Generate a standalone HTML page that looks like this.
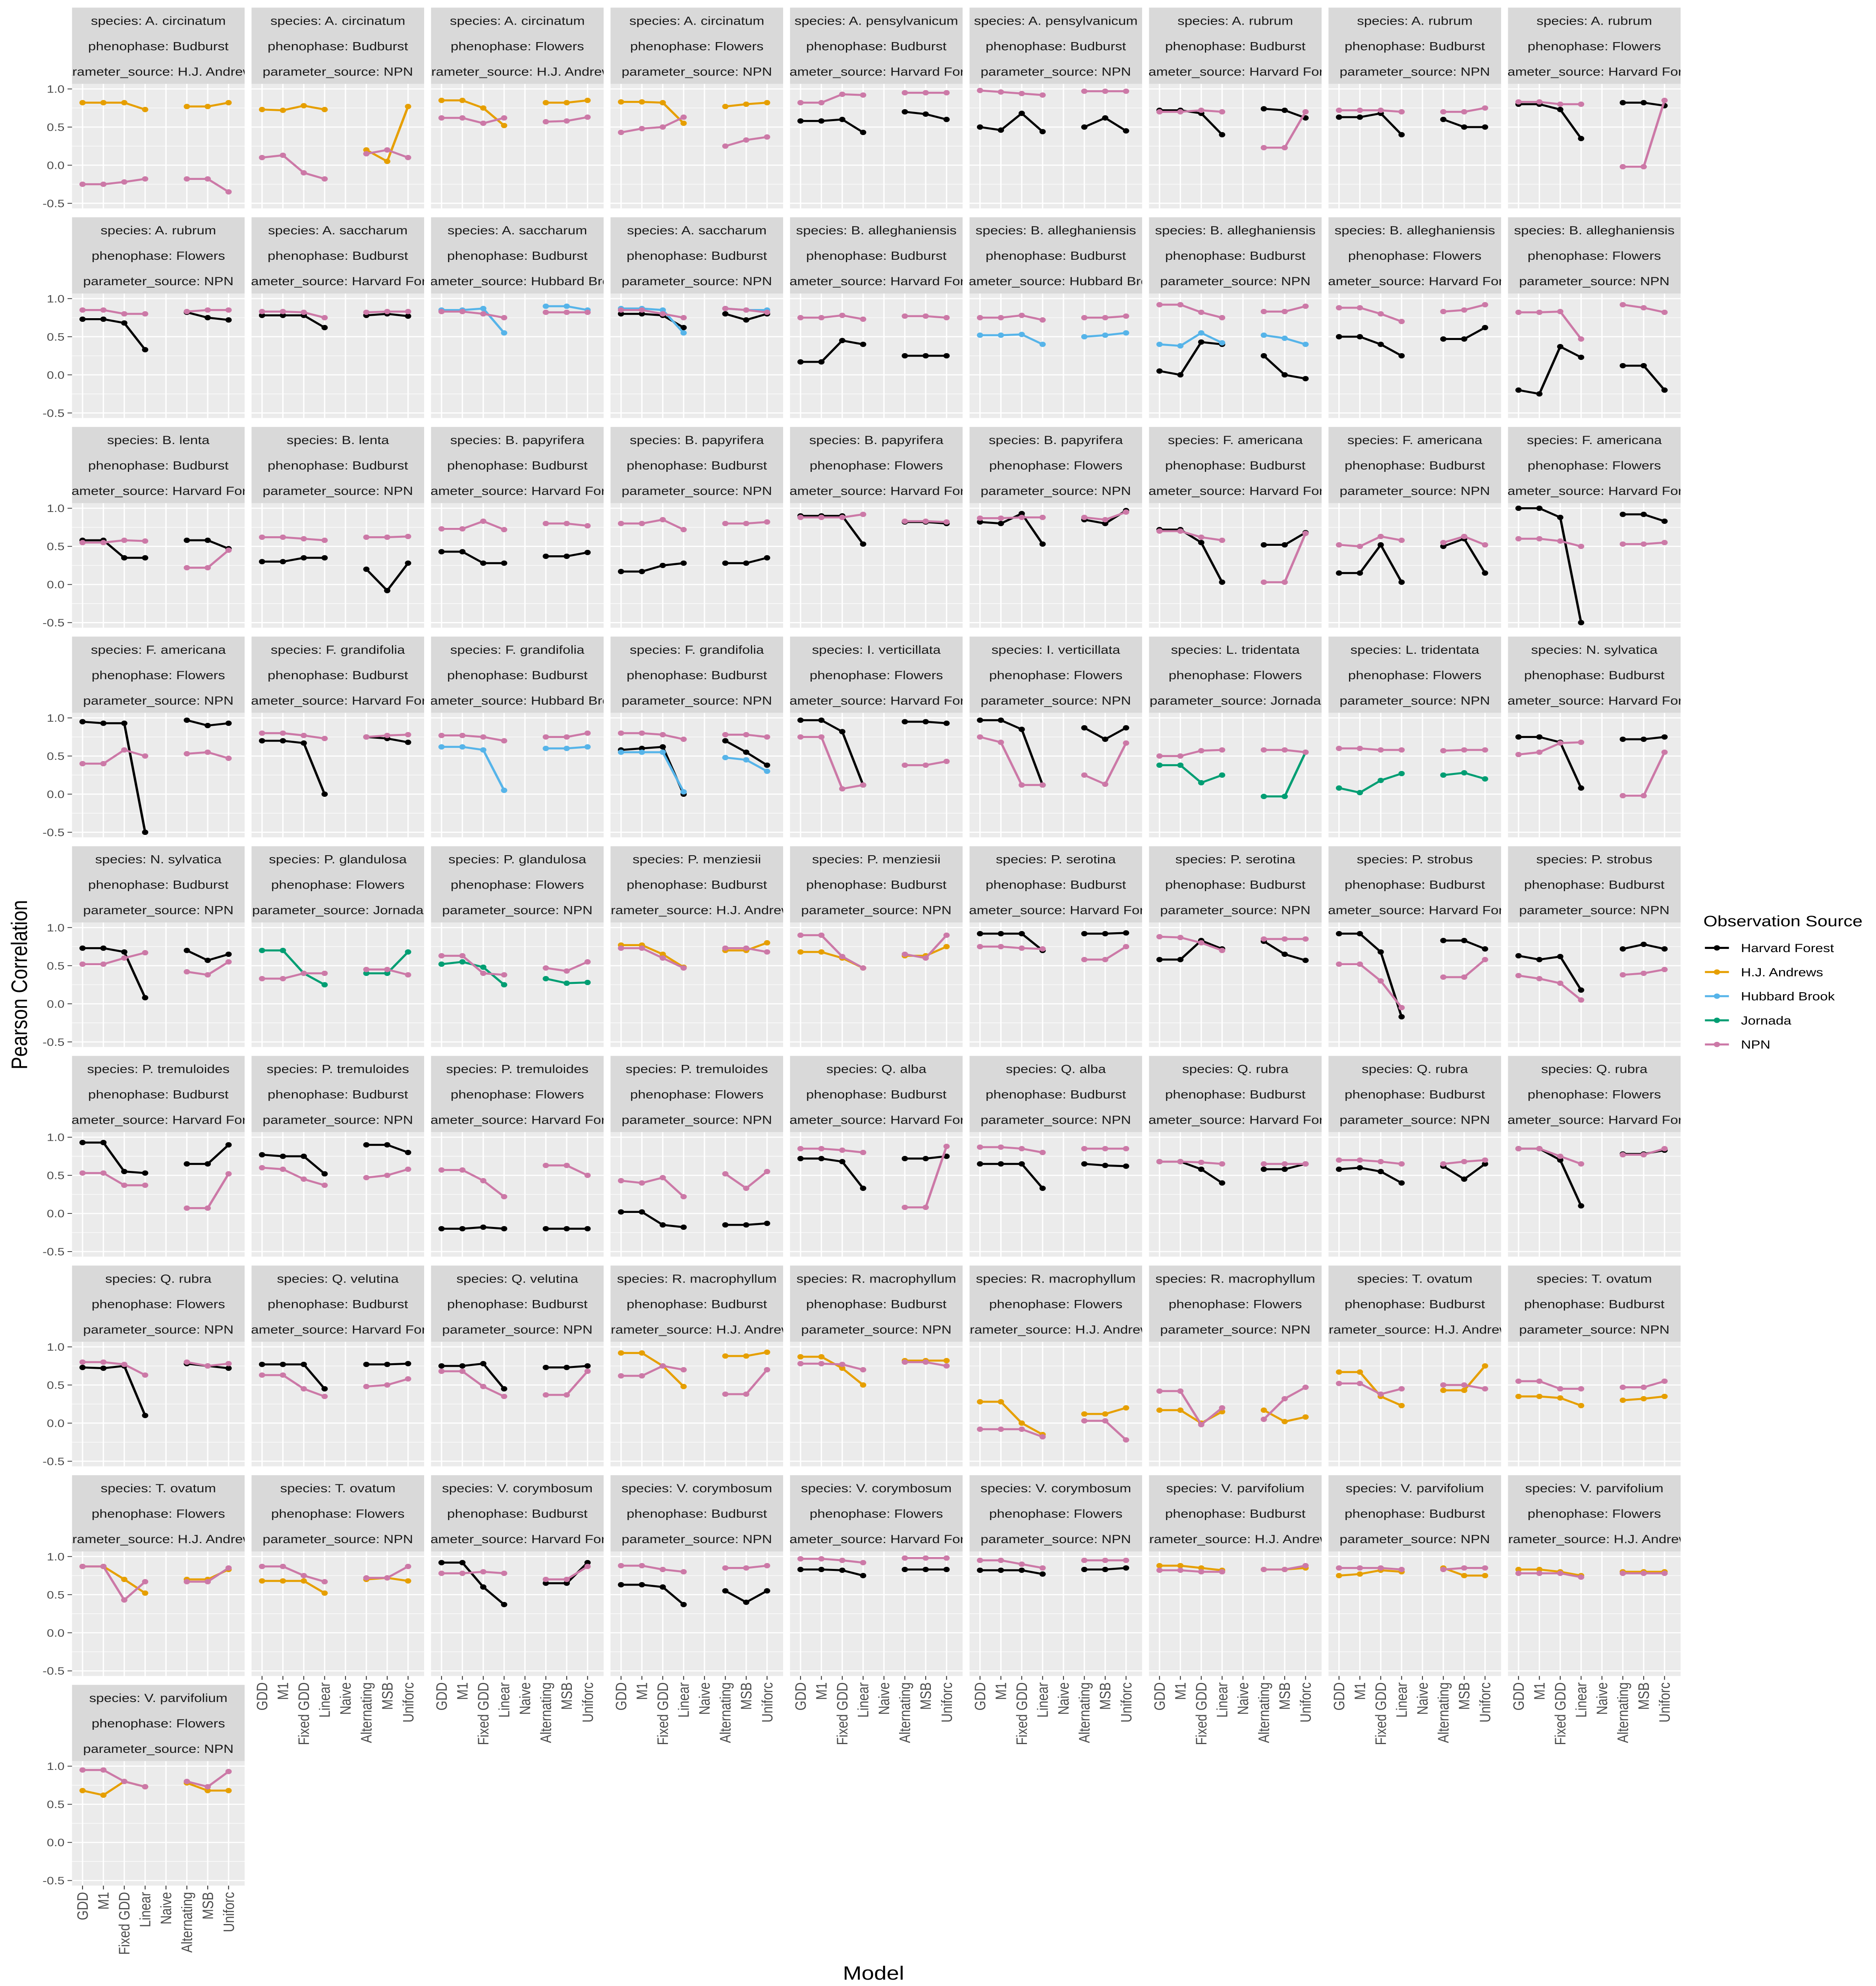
<!DOCTYPE html>
<html><head><meta charset="utf-8"><style>
html,body{margin:0;padding:0;background:#fff;overflow:hidden;width:100vw;height:100vh;}
svg{display:block;font-family:"Liberation Sans",sans-serif;width:100vw;height:100vh;}
</style></head><body>
<svg id="chart" xmlns="http://www.w3.org/2000/svg" viewBox="0 0 1250 1563" preserveAspectRatio="none">
<rect x="0" y="0" width="1250" height="1563" fill="#fff"/>
<g id="panels"></g>
<text x="18" y="775" transform="rotate(-90 18 775)" text-anchor="middle" font-size="15" fill="#000">Pearson Correlation</text>
<text x="582" y="1558" text-anchor="middle" font-size="15" fill="#000">Model</text>
<g id="legend">
<text x="1135" y="729" font-size="12" fill="#000">Observation Source</text>
</g>
</svg>
<script>
const categories=["GDD","M1","Fixed GDD","Linear","Naive","Alternating","MSB","Uniforc"];
const seriesKeys=["HF","HJ","HB","JO","NPN"];
const seriesNames=["Harvard Forest","H.J. Andrews","Hubbard Brook","Jornada","NPN"];
const seriesColors=["#000000","#E69F00","#56B4E9","#009E73","#CC79A7"];
const yTicks=[1.0,0.5,0.0,-0.5];
const yTickLabels=["1.0","0.5","0.0","-0.5"];
const n=null;
const panels=[
{sp:"A. circinatum",ph:"Budburst",src:"H.J. Andrews",HJ:[0.82,0.82,0.82,0.73,n,0.77,0.77,0.82],NPN:[-0.25,-0.25,-0.22,-0.18,n,-0.18,-0.18,-0.35]},
{sp:"A. circinatum",ph:"Budburst",src:"NPN",HJ:[0.73,0.72,0.78,0.73,n,0.2,0.05,0.77],NPN:[0.1,0.13,-0.1,-0.18,n,0.15,0.2,0.1]},
{sp:"A. circinatum",ph:"Flowers",src:"H.J. Andrews",HJ:[0.85,0.85,0.75,0.52,n,0.82,0.82,0.85],NPN:[0.62,0.62,0.55,0.62,n,0.57,0.58,0.63]},
{sp:"A. circinatum",ph:"Flowers",src:"NPN",HJ:[0.83,0.83,0.82,0.55,n,0.77,0.8,0.82],NPN:[0.43,0.48,0.5,0.63,n,0.25,0.33,0.37]},
{sp:"A. pensylvanicum",ph:"Budburst",src:"Harvard Forest",HF:[0.58,0.58,0.6,0.43,n,0.7,0.67,0.6],NPN:[0.82,0.82,0.93,0.92,n,0.95,0.95,0.95]},
{sp:"A. pensylvanicum",ph:"Budburst",src:"NPN",HF:[0.5,0.46,0.68,0.44,n,0.5,0.62,0.45],NPN:[0.98,0.96,0.94,0.92,n,0.97,0.97,0.97]},
{sp:"A. rubrum",ph:"Budburst",src:"Harvard Forest",HF:[0.72,0.72,0.68,0.4,n,0.74,0.72,0.62],NPN:[0.7,0.7,0.72,0.7,n,0.23,0.23,0.7]},
{sp:"A. rubrum",ph:"Budburst",src:"NPN",HF:[0.63,0.63,0.68,0.4,n,0.6,0.5,0.5],NPN:[0.72,0.72,0.72,0.7,n,0.7,0.7,0.75]},
{sp:"A. rubrum",ph:"Flowers",src:"Harvard Forest",HF:[0.8,0.8,0.73,0.35,n,0.82,0.82,0.78],NPN:[0.83,0.83,0.8,0.8,n,-0.02,-0.02,0.85]},
{sp:"A. rubrum",ph:"Flowers",src:"NPN",HF:[0.73,0.73,0.68,0.33,n,0.82,0.75,0.72],NPN:[0.85,0.85,0.8,0.8,n,0.83,0.85,0.85]},
{sp:"A. saccharum",ph:"Budburst",src:"Harvard Forest",HF:[0.78,0.78,0.78,0.62,n,0.78,0.8,0.77],NPN:[0.83,0.83,0.82,0.75,n,0.82,0.83,0.83]},
{sp:"A. saccharum",ph:"Budburst",src:"Hubbard Brook",HB:[0.85,0.85,0.87,0.55,n,0.9,0.9,0.85],NPN:[0.83,0.83,0.8,0.75,n,0.82,0.82,0.82]},
{sp:"A. saccharum",ph:"Budburst",src:"NPN",HF:[0.8,0.8,0.78,0.62,n,0.8,0.72,0.8],HB:[0.87,0.87,0.85,0.55,n,0.87,0.85,0.85],NPN:[0.85,0.85,0.8,0.75,n,0.87,0.85,0.82]},
{sp:"B. alleghaniensis",ph:"Budburst",src:"Harvard Forest",HF:[0.17,0.17,0.45,0.4,n,0.25,0.25,0.25],NPN:[0.75,0.75,0.78,0.73,n,0.77,0.77,0.75]},
{sp:"B. alleghaniensis",ph:"Budburst",src:"Hubbard Brook",HB:[0.52,0.52,0.53,0.4,n,0.5,0.52,0.55],NPN:[0.75,0.75,0.78,0.72,n,0.75,0.75,0.77]},
{sp:"B. alleghaniensis",ph:"Budburst",src:"NPN",HF:[0.05,0,0.43,0.4,n,0.25,0,-0.05],HB:[0.4,0.38,0.55,0.42,n,0.52,0.48,0.4],NPN:[0.92,0.92,0.82,0.75,n,0.83,0.83,0.9]},
{sp:"B. alleghaniensis",ph:"Flowers",src:"Harvard Forest",HF:[0.5,0.5,0.4,0.25,n,0.47,0.47,0.62],NPN:[0.88,0.88,0.8,0.7,n,0.83,0.85,0.92]},
{sp:"B. alleghaniensis",ph:"Flowers",src:"NPN",HF:[-0.2,-0.25,0.37,0.23,n,0.12,0.12,-0.2],NPN:[0.82,0.82,0.83,0.47,n,0.92,0.88,0.82]},
{sp:"B. lenta",ph:"Budburst",src:"Harvard Forest",HF:[0.58,0.58,0.35,0.35,n,0.58,0.58,0.47],NPN:[0.55,0.55,0.58,0.57,n,0.22,0.22,0.45]},
{sp:"B. lenta",ph:"Budburst",src:"NPN",HF:[0.3,0.3,0.35,0.35,n,0.2,-0.08,0.28],NPN:[0.62,0.62,0.6,0.58,n,0.62,0.62,0.63]},
{sp:"B. papyrifera",ph:"Budburst",src:"Harvard Forest",HF:[0.43,0.43,0.28,0.28,n,0.37,0.37,0.42],NPN:[0.73,0.73,0.83,0.72,n,0.8,0.8,0.77]},
{sp:"B. papyrifera",ph:"Budburst",src:"NPN",HF:[0.17,0.17,0.25,0.28,n,0.28,0.28,0.35],NPN:[0.8,0.8,0.85,0.72,n,0.8,0.8,0.82]},
{sp:"B. papyrifera",ph:"Flowers",src:"Harvard Forest",HF:[0.9,0.9,0.9,0.53,n,0.82,0.82,0.8],NPN:[0.88,0.88,0.88,0.92,n,0.83,0.83,0.82]},
{sp:"B. papyrifera",ph:"Flowers",src:"NPN",HF:[0.82,0.8,0.93,0.53,n,0.85,0.8,0.97],NPN:[0.87,0.87,0.88,0.88,n,0.88,0.85,0.95]},
{sp:"F. americana",ph:"Budburst",src:"Harvard Forest",HF:[0.72,0.72,0.55,0.03,n,0.52,0.52,0.68],NPN:[0.7,0.7,0.62,0.58,n,0.03,0.03,0.67]},
{sp:"F. americana",ph:"Budburst",src:"NPN",HF:[0.15,0.15,0.52,0.03,n,0.5,0.6,0.15],NPN:[0.52,0.5,0.63,0.58,n,0.55,0.63,0.52]},
{sp:"F. americana",ph:"Flowers",src:"Harvard Forest",HF:[1.0,1.0,0.88,-0.5,n,0.92,0.92,0.83],NPN:[0.6,0.6,0.57,0.5,n,0.53,0.53,0.55]},
{sp:"F. americana",ph:"Flowers",src:"NPN",HF:[0.95,0.93,0.93,-0.5,n,0.97,0.9,0.93],NPN:[0.4,0.4,0.58,0.5,n,0.53,0.55,0.47]},
{sp:"F. grandifolia",ph:"Budburst",src:"Harvard Forest",HF:[0.7,0.7,0.67,0,n,0.75,0.73,0.68],NPN:[0.8,0.8,0.77,0.73,n,0.75,0.77,0.78]},
{sp:"F. grandifolia",ph:"Budburst",src:"Hubbard Brook",HB:[0.62,0.62,0.58,0.05,n,0.6,0.6,0.62],NPN:[0.77,0.77,0.75,0.7,n,0.75,0.75,0.8]},
{sp:"F. grandifolia",ph:"Budburst",src:"NPN",HF:[0.58,0.6,0.62,0,n,0.7,0.55,0.38],HB:[0.55,0.55,0.55,0.03,n,0.48,0.45,0.3],NPN:[0.8,0.8,0.78,0.72,n,0.78,0.78,0.75]},
{sp:"I. verticillata",ph:"Flowers",src:"Harvard Forest",HF:[0.97,0.97,0.82,0.12,n,0.95,0.95,0.93],NPN:[0.75,0.75,0.07,0.12,n,0.38,0.38,0.43]},
{sp:"I. verticillata",ph:"Flowers",src:"NPN",HF:[0.97,0.97,0.85,0.12,n,0.87,0.72,0.87],NPN:[0.75,0.68,0.12,0.12,n,0.25,0.13,0.67]},
{sp:"L. tridentata",ph:"Flowers",src:"Jornada",JO:[0.38,0.38,0.15,0.25,n,-0.03,-0.03,0.55],NPN:[0.5,0.5,0.57,0.58,n,0.58,0.58,0.55]},
{sp:"L. tridentata",ph:"Flowers",src:"NPN",JO:[0.08,0.02,0.18,0.27,n,0.25,0.28,0.2],NPN:[0.6,0.6,0.58,0.58,n,0.57,0.58,0.58]},
{sp:"N. sylvatica",ph:"Budburst",src:"Harvard Forest",HF:[0.75,0.75,0.68,0.08,n,0.72,0.72,0.75],NPN:[0.52,0.55,0.67,0.68,n,-0.02,-0.02,0.55]},
{sp:"N. sylvatica",ph:"Budburst",src:"NPN",HF:[0.73,0.73,0.68,0.08,n,0.7,0.57,0.65],NPN:[0.52,0.52,0.6,0.67,n,0.42,0.38,0.55]},
{sp:"P. glandulosa",ph:"Flowers",src:"Jornada",JO:[0.7,0.7,0.4,0.25,n,0.4,0.4,0.68],NPN:[0.33,0.33,0.4,0.4,n,0.45,0.45,0.38]},
{sp:"P. glandulosa",ph:"Flowers",src:"NPN",JO:[0.52,0.55,0.48,0.25,n,0.33,0.27,0.28],NPN:[0.63,0.63,0.4,0.38,n,0.47,0.43,0.55]},
{sp:"P. menziesii",ph:"Budburst",src:"H.J. Andrews",HJ:[0.77,0.77,0.65,0.48,n,0.7,0.7,0.8],NPN:[0.73,0.73,0.6,0.47,n,0.73,0.73,0.68]},
{sp:"P. menziesii",ph:"Budburst",src:"NPN",HJ:[0.68,0.68,0.6,0.47,n,0.63,0.63,0.75],NPN:[0.9,0.9,0.62,0.47,n,0.65,0.6,0.9]},
{sp:"P. serotina",ph:"Budburst",src:"Harvard Forest",HF:[0.92,0.92,0.92,0.7,n,0.92,0.92,0.93],NPN:[0.75,0.75,0.73,0.72,n,0.58,0.58,0.75]},
{sp:"P. serotina",ph:"Budburst",src:"NPN",HF:[0.58,0.58,0.83,0.72,n,0.82,0.65,0.57],NPN:[0.88,0.87,0.8,0.7,n,0.85,0.85,0.85]},
{sp:"P. strobus",ph:"Budburst",src:"Harvard Forest",HF:[0.92,0.92,0.68,-0.17,n,0.83,0.83,0.72],NPN:[0.52,0.52,0.3,-0.05,n,0.35,0.35,0.58]},
{sp:"P. strobus",ph:"Budburst",src:"NPN",HF:[0.63,0.58,0.62,0.18,n,0.72,0.78,0.72],NPN:[0.37,0.33,0.27,0.05,n,0.38,0.4,0.45]},
{sp:"P. tremuloides",ph:"Budburst",src:"Harvard Forest",HF:[0.93,0.93,0.55,0.53,n,0.65,0.65,0.9],NPN:[0.53,0.53,0.37,0.37,n,0.07,0.07,0.52]},
{sp:"P. tremuloides",ph:"Budburst",src:"NPN",HF:[0.77,0.75,0.75,0.52,n,0.9,0.9,0.8],NPN:[0.6,0.58,0.45,0.37,n,0.47,0.5,0.58]},
{sp:"P. tremuloides",ph:"Flowers",src:"Harvard Forest",HF:[-0.2,-0.2,-0.18,-0.2,n,-0.2,-0.2,-0.2],NPN:[0.57,0.57,0.43,0.22,n,0.63,0.63,0.5]},
{sp:"P. tremuloides",ph:"Flowers",src:"NPN",HF:[0.02,0.02,-0.15,-0.18,n,-0.15,-0.15,-0.13],NPN:[0.43,0.4,0.47,0.22,n,0.52,0.33,0.55]},
{sp:"Q. alba",ph:"Budburst",src:"Harvard Forest",HF:[0.72,0.72,0.68,0.33,n,0.72,0.72,0.75],NPN:[0.85,0.85,0.83,0.8,n,0.08,0.08,0.88]},
{sp:"Q. alba",ph:"Budburst",src:"NPN",HF:[0.65,0.65,0.65,0.33,n,0.65,0.63,0.62],NPN:[0.87,0.87,0.85,0.8,n,0.85,0.85,0.85]},
{sp:"Q. rubra",ph:"Budburst",src:"Harvard Forest",HF:[0.68,0.68,0.58,0.4,n,0.58,0.58,0.65],NPN:[0.68,0.68,0.67,0.65,n,0.65,0.65,0.65]},
{sp:"Q. rubra",ph:"Budburst",src:"NPN",HF:[0.58,0.6,0.55,0.4,n,0.62,0.45,0.65],NPN:[0.7,0.7,0.68,0.65,n,0.65,0.68,0.7]},
{sp:"Q. rubra",ph:"Flowers",src:"Harvard Forest",HF:[0.85,0.85,0.7,0.1,n,0.78,0.78,0.83],NPN:[0.85,0.85,0.75,0.65,n,0.77,0.77,0.85]},
{sp:"Q. rubra",ph:"Flowers",src:"NPN",HF:[0.73,0.72,0.75,0.1,n,0.78,0.75,0.72],NPN:[0.8,0.8,0.77,0.63,n,0.8,0.75,0.78]},
{sp:"Q. velutina",ph:"Budburst",src:"Harvard Forest",HF:[0.77,0.77,0.77,0.45,n,0.77,0.77,0.78],NPN:[0.63,0.63,0.45,0.35,n,0.48,0.5,0.58]},
{sp:"Q. velutina",ph:"Budburst",src:"NPN",HF:[0.75,0.75,0.78,0.45,n,0.73,0.73,0.75],NPN:[0.68,0.68,0.48,0.35,n,0.37,0.37,0.68]},
{sp:"R. macrophyllum",ph:"Budburst",src:"H.J. Andrews",HJ:[0.92,0.92,0.75,0.48,n,0.88,0.88,0.93],NPN:[0.62,0.62,0.75,0.7,n,0.38,0.38,0.7]},
{sp:"R. macrophyllum",ph:"Budburst",src:"NPN",HJ:[0.87,0.87,0.72,0.5,n,0.82,0.82,0.82],NPN:[0.78,0.78,0.77,0.7,n,0.8,0.8,0.75]},
{sp:"R. macrophyllum",ph:"Flowers",src:"H.J. Andrews",HJ:[0.28,0.28,0,-0.15,n,0.12,0.12,0.2],NPN:[-0.08,-0.08,-0.08,-0.18,n,0.03,0.03,-0.22]},
{sp:"R. macrophyllum",ph:"Flowers",src:"NPN",HJ:[0.17,0.17,0,0.15,n,0.17,0.02,0.08],NPN:[0.42,0.42,-0.02,0.2,n,0.05,0.32,0.47]},
{sp:"T. ovatum",ph:"Budburst",src:"H.J. Andrews",HJ:[0.67,0.67,0.35,0.23,n,0.43,0.43,0.75],NPN:[0.52,0.52,0.38,0.45,n,0.5,0.5,0.45]},
{sp:"T. ovatum",ph:"Budburst",src:"NPN",HJ:[0.35,0.35,0.33,0.23,n,0.3,0.32,0.35],NPN:[0.55,0.55,0.45,0.45,n,0.47,0.47,0.55]},
{sp:"T. ovatum",ph:"Flowers",src:"H.J. Andrews",HJ:[0.87,0.87,0.7,0.52,n,0.7,0.7,0.83],NPN:[0.87,0.87,0.43,0.67,n,0.67,0.67,0.85]},
{sp:"T. ovatum",ph:"Flowers",src:"NPN",HJ:[0.68,0.68,0.68,0.52,n,0.7,0.72,0.68],NPN:[0.87,0.87,0.75,0.67,n,0.72,0.72,0.87]},
{sp:"V. corymbosum",ph:"Budburst",src:"Harvard Forest",HF:[0.92,0.92,0.6,0.37,n,0.65,0.65,0.92],NPN:[0.78,0.78,0.8,0.78,n,0.7,0.7,0.87]},
{sp:"V. corymbosum",ph:"Budburst",src:"NPN",HF:[0.63,0.63,0.6,0.37,n,0.55,0.4,0.55],NPN:[0.88,0.88,0.83,0.8,n,0.85,0.85,0.88]},
{sp:"V. corymbosum",ph:"Flowers",src:"Harvard Forest",HF:[0.83,0.83,0.82,0.75,n,0.83,0.83,0.83],NPN:[0.97,0.97,0.95,0.92,n,0.98,0.98,0.98]},
{sp:"V. corymbosum",ph:"Flowers",src:"NPN",HF:[0.82,0.82,0.82,0.77,n,0.83,0.83,0.85],NPN:[0.95,0.95,0.9,0.85,n,0.95,0.95,0.95]},
{sp:"V. parvifolium",ph:"Budburst",src:"H.J. Andrews",HJ:[0.88,0.88,0.85,0.82,n,0.83,0.83,0.85],NPN:[0.82,0.82,0.8,0.8,n,0.83,0.83,0.88]},
{sp:"V. parvifolium",ph:"Budburst",src:"NPN",HJ:[0.75,0.77,0.82,0.8,n,0.85,0.75,0.75],NPN:[0.85,0.85,0.85,0.83,n,0.83,0.85,0.85]},
{sp:"V. parvifolium",ph:"Flowers",src:"H.J. Andrews",HJ:[0.83,0.83,0.8,0.75,n,0.8,0.8,0.8],NPN:[0.78,0.78,0.78,0.73,n,0.78,0.78,0.78]},
{sp:"V. parvifolium",ph:"Flowers",src:"NPN",HJ:[0.68,0.62,0.8,0.73,n,0.78,0.68,0.68],NPN:[0.95,0.95,0.8,0.73,n,0.8,0.73,0.93]}
];

const NS="http://www.w3.org/2000/svg";
function mk(tag,attrs,parent){const e=document.createElementNS(NS,tag);for(const k in attrs)e.setAttribute(k,attrs[k]);if(parent)parent.appendChild(e);return e;}
const COLS=9,PX0=48,PDX=119.6,PW=115,SY0=6,PDY=165,STRIPH=60,PH=98;
function yScale(top,v){return top+4+(1.0-v)*60;}
function xScale(left,k){return left+7+k*13.9;}
const root=document.getElementById('panels');
const defs=mk('defs',{},root);
const nPan=panels.length;
panels.forEach((p,i)=>{
  const col=i%COLS,row=Math.floor(i/COLS);
  const left=PX0+col*PDX,stop=SY0+row*PDY,top=stop+STRIPH;
  const g=mk('g',{},root);
  
  
  const cp=mk('clipPath',{id:'c'+i},defs);
  mk('rect',{x:left,y:stop,width:PW,height:STRIPH},cp);
  const strip=mk('rect',{x:left,y:stop,width:PW,height:STRIPH,fill:'#D9D9D9'},g);
  
  
  const tg=mk('g',{'clip-path':'url(#c'+i+')'},g);
  [['species: '+p.sp],['phenophase: '+p.ph],['parameter_source: '+p.src]].forEach((t,j)=>{
    const tx=mk('text',{x:left+PW/2,y:stop+13.5+j*20,'text-anchor':'middle','font-size':'9.3',fill:'#1A1A1A'},tg);
    tx.textContent=t[0];
    
    
  });
  const bg=mk('rect',{x:left,y:top,width:PW,height:PH,fill:'#EBEBEB'},g);
  
  
  [0.75,0.25,-0.25].forEach(v=>mk('line',{x1:left,x2:left+PW,y1:yScale(top,v),y2:yScale(top,v),stroke:'#fff','stroke-width':0.4},g));
  yTicks.forEach(v=>mk('line',{x1:left,x2:left+PW,y1:yScale(top,v),y2:yScale(top,v),stroke:'#fff','stroke-width':0.9},g));
  categories.forEach((c,k)=>mk('line',{x1:xScale(left,k),x2:xScale(left,k),y1:top,y2:top+PH,stroke:'#fff','stroke-width':0.9},g));
  if(col===0){
    yTicks.forEach((v,j)=>{
      const t=mk('text',{x:left-5,y:yScale(top,v)+3,'text-anchor':'end','font-size':'8.5',fill:'#4D4D4D'},g);
      t.textContent=yTickLabels[j];
      
      
      mk('line',{x1:left-3,x2:left,y1:yScale(top,v),y2:yScale(top,v),stroke:'#333','stroke-width':0.6},g);
    });
  }
  const isBottom=(i+COLS>=nPan);
  if(isBottom){
    categories.forEach((c,k)=>{
      const x=xScale(left,k),y=top+PH;
      mk('line',{x1:x,x2:x,y1:y,y2:y+3,stroke:'#333','stroke-width':0.6},g);
      const t=mk('text',{x:x+3.5,y:y+5,'text-anchor':'end','font-size':'10',fill:'#4D4D4D',transform:'rotate(-90 '+(x+3.5)+' '+(y+5)+')'},g);
      t.textContent=c;
      
      
    });
  }
  seriesKeys.forEach((key,si)=>{
    const vals=p[key];if(!vals)return;
    const col2=seriesColors[si];
    for(let k=0;k<vals.length-1;k++){
      if(vals[k]!==null&&vals[k+1]!==null){
        const l=mk('line',{x1:xScale(left,k),y1:yScale(top,vals[k]),x2:xScale(left,k+1),y2:yScale(top,vals[k+1]),stroke:col2,'stroke-width':1.6},g);
        
        
      }
    }
    vals.forEach((v,k)=>{
      if(v===null)return;
      const c=mk('circle',{cx:xScale(left,k),cy:yScale(top,v),r:2.1,fill:col2},g);
      
      
    });
  });
});
const lg=document.getElementById('legend');
seriesNames.forEach((nm,i)=>{
  const y=746+i*19;
  const e=mk('g',{},lg);
  
  
  mk('line',{x1:1136,x2:1152,y1:y,y2:y,stroke:seriesColors[i],'stroke-width':1.6},e);
  mk('circle',{cx:1144,cy:y,r:2.1,fill:seriesColors[i]},e);
  const t=mk('text',{x:1160,y:y+3.3,'font-size':'9.3',fill:'#000'},e);
  t.textContent=nm;
});
</script>
</body></html>
